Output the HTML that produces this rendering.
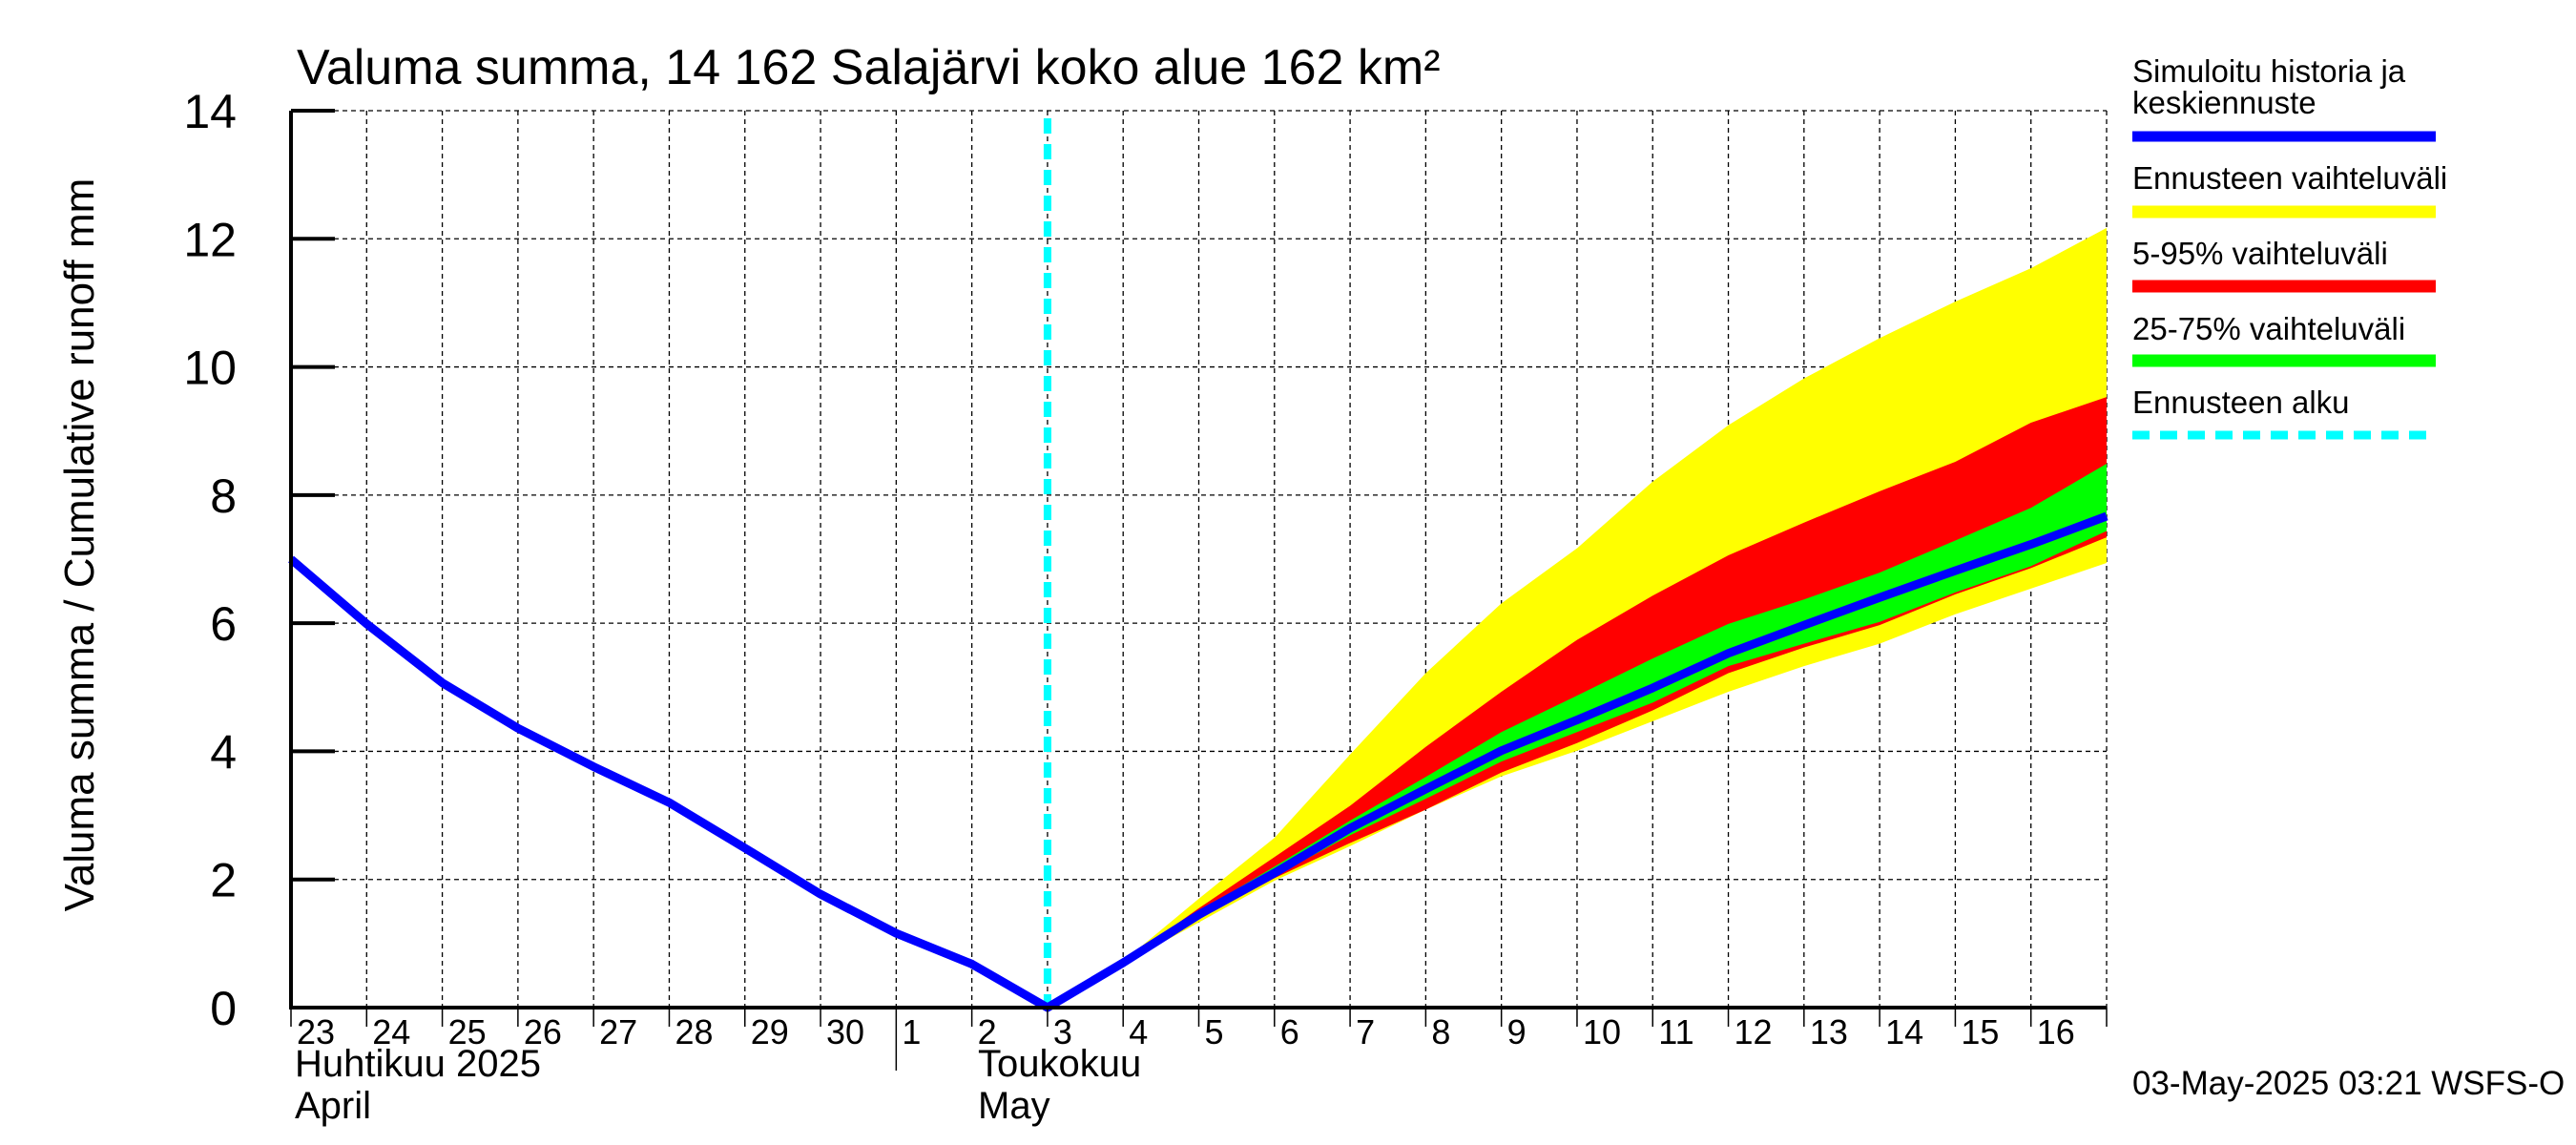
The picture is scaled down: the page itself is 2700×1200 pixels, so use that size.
<!DOCTYPE html>
<html><head><meta charset="utf-8"><style>
html,body{margin:0;padding:0;background:#fff;}
svg{display:block;font-family:"Liberation Sans",sans-serif;}
</style></head><body>
<svg id="chart" width="2700" height="1200" viewBox="0 0 2700 1200" xmlns="http://www.w3.org/2000/svg">
<rect width="2700" height="1200" fill="#fff"/>
<text x="311" y="88" font-size="52">Valuma summa, 14 162 Salajärvi koko alue 162 km²</text>
<text transform="translate(98,571) rotate(-90)" text-anchor="middle" font-size="44">Valuma summa / Cumulative runoff    mm</text>
<g id="grid"></g>
<g id="bands"></g>
<g id="lines"></g>
<g id="axes"></g>
<g font-size="40">
<text x="309" y="1128">Huhtikuu  2025</text>
<text x="309" y="1172">April</text>
<text x="1025" y="1128">Toukokuu</text>
<text x="1025" y="1172">May</text>
</g>
<g font-size="33">
<text x="2235" y="86">Simuloitu historia ja</text>
<text x="2235" y="119">keskiennuste</text>
<line x1="2235" x2="2553" y1="143" y2="143" stroke="#0000ff" stroke-width="11"/>
<text x="2235" y="198">Ennusteen vaihteluväli</text>
<line x1="2235" x2="2553" y1="222" y2="222" stroke="#ffff00" stroke-width="13"/>
<text x="2235" y="277">5-95% vaihteluväli</text>
<line x1="2235" x2="2553" y1="300" y2="300" stroke="#ff0000" stroke-width="13"/>
<text x="2235" y="356">25-75% vaihteluväli</text>
<line x1="2235" x2="2553" y1="378" y2="378" stroke="#00ff00" stroke-width="13"/>
<text x="2235" y="433">Ennusteen alku</text>
<line x1="2235" x2="2553" y1="456" y2="456" stroke="#00ffff" stroke-width="9" stroke-dasharray="18,11"/>
</g>
<text x="2235" y="1147" font-size="35">03-May-2025 03:21 WSFS-O</text>
</svg>
<script>
const dayLabels=["23","24","25","26","27","28","29","30","1","2","3","4","5","6","7","8","9","10","11","12","13","14","15","16"];
const yTicks=[0,2,4,6,8,10,12,14];
const historyVals=[7.0,5.99,5.07,4.36,3.76,3.2,2.49,1.77,1.16,0.68,0];
const fcMedian=[0,0.7,1.45,2.1,2.8,3.41,4.01,4.49,4.99,5.53,5.97,6.4,6.82,7.23,7.67];
const fcMaxHi=[0,0.72,1.7,2.65,3.95,5.22,6.31,7.17,8.21,9.09,9.82,10.45,11.02,11.54,12.17];
const fcMaxLo=[0,0.68,1.33,1.98,2.52,3.09,3.61,4.01,4.47,4.93,5.33,5.68,6.14,6.54,6.94];
const fc95=[0,0.71,1.55,2.35,3.15,4.07,4.93,5.74,6.43,7.06,7.57,8.06,8.52,9.13,9.53];
const fc05=[0,0.69,1.38,2.02,2.57,3.09,3.67,4.13,4.64,5.22,5.62,5.97,6.45,6.86,7.34];
const fc75=[0,0.7,1.5,2.2,2.92,3.6,4.3,4.87,5.45,5.99,6.37,6.79,7.29,7.8,8.49];
const fc25=[0,0.7,1.4,2.05,2.69,3.26,3.84,4.3,4.76,5.33,5.68,6.02,6.48,6.89,7.44];
const forecastStart=10;
const L=305,R=2208,T=116,B=1056,NDAYS=24,YMAX=14;
const xs=i=>L+(R-L)*i/NDAYS;
const ys=v=>B-(B-T)*v/YMAX;
const NS="http://www.w3.org/2000/svg";
function mk(tag,parent,attrs){const e=document.createElementNS(NS,tag);for(const k in attrs)e.setAttribute(k,attrs[k]);parent.appendChild(e);return e;}
const grid=document.getElementById('grid'),bands=document.getElementById('bands'),lines=document.getElementById('lines'),axes=document.getElementById('axes');
for(let i=1;i<=NDAYS;i++){const g=mk('line',grid,{x1:xs(i),x2:xs(i),y1:T,y2:B,stroke:'#000','stroke-width':1.3,'stroke-dasharray':'5,4'});

}
yTicks.forEach(v=>{if(v>0){const g=mk('line',grid,{x1:L,x2:R,y1:ys(v),y2:ys(v),stroke:'#000','stroke-width':1.3,'stroke-dasharray':'5,4'});

}
const t=mk('line',axes,{x1:L,x2:L+46,y1:ys(v),y2:ys(v),stroke:'#000','stroke-width':4});


const lb=mk('text',axes,{x:248,y:ys(v)+18,'text-anchor':'end','font-size':50});lb.textContent=v;

});
function band(hi,lo,color,name){const n=hi.length;let p=[];for(let k=0;k<n;k++)p.push(xs(forecastStart+k)+','+ys(hi[k]));for(let k=n-1;k>=0;k--)p.push(xs(forecastStart+k)+','+ys(lo[k]));
const e=mk('polygon',bands,{points:p.join(' '),fill:color});

}
band(fcMaxHi,fcMaxLo,'#ffff00','band-full-range');
band(fc95,fc05,'#ff0000','band-5-95');
band(fc75,fc25,'#00ff00','band-25-75');
const cy=mk('line',lines,{x1:xs(forecastStart),x2:xs(forecastStart),y1:T+8,y2:B,stroke:'#00ffff','stroke-width':8,'stroke-dasharray':'16,11'});


let pts=historyVals.map((v,i)=>xs(i)+','+ys(v)).concat(fcMedian.slice(1).map((v,k)=>xs(forecastStart+k+1)+','+ys(v)));
const bl=mk('polyline',lines,{points:pts.join(' '),fill:'none',stroke:'#0000ff','stroke-width':9,'stroke-linejoin':'round'});


const ax=mk('path',axes,{d:`M${L},${T} L${L},${B} L${R},${B}`,fill:'none',stroke:'#000','stroke-width':4});


for(let i=0;i<=NDAYS;i++){const t=mk('line',axes,{x1:xs(i),x2:xs(i),y1:B,y2:B+(i==8?66:20),stroke:'#000','stroke-width':1.5});

}
dayLabels.forEach((d,i)=>{const t=mk('text',axes,{x:xs(i)+6,y:1094,'font-size':36});t.textContent=d;

});
</script>
</body></html>
